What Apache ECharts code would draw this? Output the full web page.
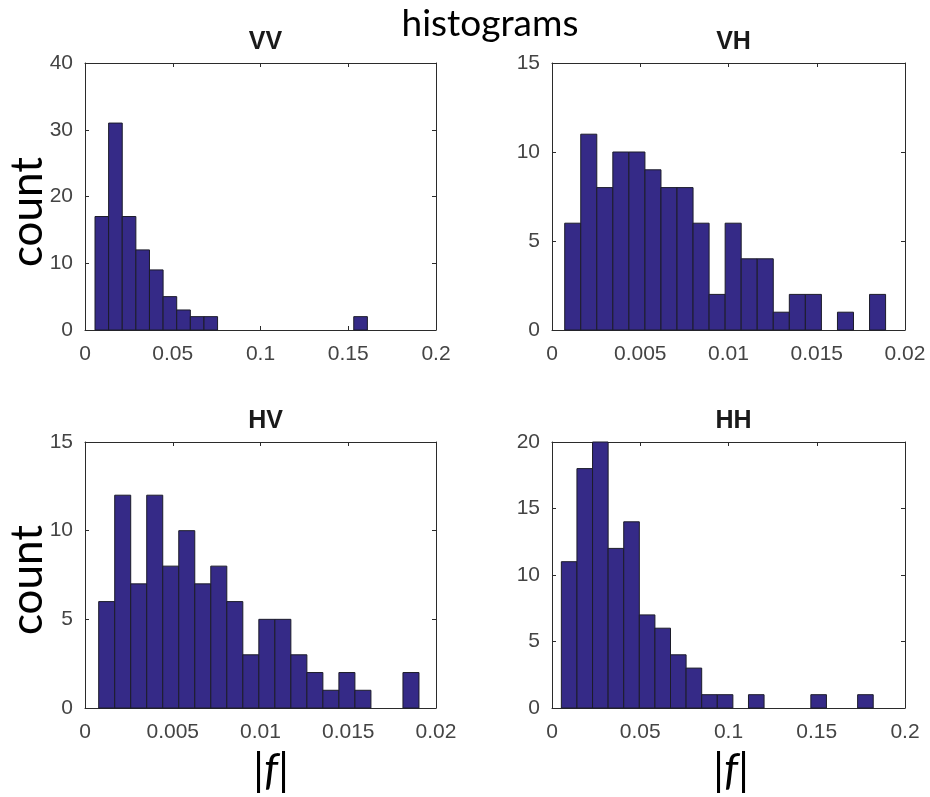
<!DOCTYPE html>
<html>
<head>
<meta charset="utf-8">
<script src="https://cdn.jsdelivr.net/npm/echarts@6/dist/echarts.min.js"></script>
<style>html,body{margin:0;padding:0;background:#fff;}#c{width:930px;height:797px;}</style>
</head>
<body>
<div id="c"></div>
<script>
// ---- data ----
const panelTitles = ['VV', 'VH', 'HV', 'HH'];
const vvCounts = [17, 31, 17, 12, 9, 5, 3, 2, 2, 0, 0, 0, 0, 0, 0, 0, 0, 0, 0, 2];
const vhCounts = [6, 11, 8, 10, 10, 9, 8, 8, 6, 2, 6, 4, 4, 1, 2, 2, 0, 1, 0, 2];
const hvCounts = [6, 12, 7, 12, 8, 10, 7, 8, 6, 3, 5, 5, 3, 2, 1, 2, 1, 0, 0, 2];
const hhCounts = [11, 18, 20, 12, 14, 7, 6, 4, 3, 1, 1, 0, 1, 0, 0, 0, 1, 0, 0, 1];
// bin range [first edge, last edge] (20 equal bins)
const vvRange = [0.0057, 0.1609];
const vhRange = [0.00072, 0.0189];
const hvRange = [0.00078, 0.01903];
const hhRange = [0.0053, 0.182];
// axis ticks
const xTicksWide = [0, 0.2, 0.05];    // min, max, interval
const xTicksNarrow = [0, 0.02, 0.005];
const vvY = [0, 40, 10];
const vhY = [0, 15, 5];
const hvY = [0, 15, 5];
const hhY = [0, 20, 5];

const counts = [vvCounts, vhCounts, hvCounts, hhCounts];
const ranges = [vvRange, vhRange, hvRange, hhRange];
const xTicks = [xTicksWide, xTicksNarrow, xTicksNarrow, xTicksWide];
const yTicks = [vvY, vhY, hvY, hhY];

// ---- layout ----
const grids = [
  {left: 85, top: 63, width: 351, height: 267},
  {left: 552, top: 63, width: 353, height: 267},
  {left: 85, top: 442, width: 351, height: 266},
  {left: 552, top: 442, width: 353, height: 266}
];
const BAR = '#352a87';
const AX = '#2b2b2b';
const LBL = '#444444';
const tickFont = 'Liberation Sans, Arial, sans-serif';

const xAxis = [], yAxis = [], series = [], title = [];
grids.forEach((g, p) => {
  const [xmin, xmax, xint] = xTicks[p];
  const [ymin, ymax, yint] = yTicks[p];
  const common = {
    axisLine: {show: true, onZero: false, lineStyle: {color: AX, width: 1}},
    axisTick: {show: true, inside: true, length: 4, lineStyle: {color: AX, width: 1}},
    splitLine: {show: false}
  };
  xAxis.push(Object.assign({type: 'value', gridIndex: p, position: 'bottom', min: xmin, max: xmax, interval: xint,
    axisLabel: {color: LBL, fontSize: 21, fontFamily: tickFont, margin: 14}}, common));
  xAxis.push(Object.assign({type: 'value', gridIndex: p, position: 'top', min: xmin, max: xmax, interval: xint,
    axisLabel: {show: false}}, common));
  yAxis.push(Object.assign({type: 'value', gridIndex: p, position: 'left', min: ymin, max: ymax, interval: yint,
    axisLabel: {color: LBL, fontSize: 21, fontFamily: tickFont, margin: 12}}, common));
  yAxis.push(Object.assign({type: 'value', gridIndex: p, position: 'right', min: ymin, max: ymax, interval: yint,
    axisLabel: {show: false}}, common));

  const [lo, hi] = ranges[p];
  const n = counts[p].length;
  const w = (hi - lo) / n;
  const data = counts[p].map((c, i) => [lo + i * w, lo + (i + 1) * w, c]);
  series.push({
    type: 'custom',
    xAxisIndex: 2 * p,
    yAxisIndex: 2 * p,
    data: data,
    encode: {x: [0, 1], y: 2},
    silent: true,
    renderItem: function (params, api) {
      const c = api.value(2);
      if (!c) return null;
      const a = api.coord([api.value(0), c]);
      const b = api.coord([api.value(1), 0]);
      return {
        type: 'rect',
        shape: {x: a[0], y: a[1], width: b[0] - a[0], height: b[1] - a[1]},
        style: {fill: BAR, stroke: '#1c1c2a', lineWidth: 1}
      };
    }
  });
  title.push({
    text: panelTitles[p],
    left: g.left + g.width / 2,
    top: g.top - 38,
    textAlign: 'center',
    textStyle: {fontSize: 25, fontWeight: 'bold', color: '#1a1a1a', fontFamily: tickFont}
  });
});

title.push({
  text: 'histograms',
  left: 485,
  top: 1,
  textAlign: 'center',
  textStyle: {fontSize: 37, fontWeight: 'normal', color: '#000', fontFamily: 'Lato, sans-serif'}
});

const bigFont = 'Lato, sans-serif';
const graphic = [
  {type: 'text', x: 28, y: 212, rotation: Math.PI / 2,
    style: {text: 'count', font: '44px ' + bigFont, fill: '#000', align: 'center', verticalAlign: 'middle'}},
  {type: 'text', x: 28, y: 580, rotation: Math.PI / 2,
    style: {text: 'count', font: '44px ' + bigFont, fill: '#000', align: 'center', verticalAlign: 'middle'}},
  {type: 'text', x: 271, y: 771,
    style: {text: '|{i|f}|', font: '44px ' + bigFont, fill: '#000', align: 'center', verticalAlign: 'middle',
      rich: {i: {fontStyle: 'italic', fontSize: 44, fontFamily: bigFont}}}},
  {type: 'text', x: 731, y: 771,
    style: {text: '|{i|f}|', font: '44px ' + bigFont, fill: '#000', align: 'center', verticalAlign: 'middle',
      rich: {i: {fontStyle: 'italic', fontSize: 44, fontFamily: bigFont}}}}
];

const chart = echarts.init(document.getElementById('c'), null, {renderer: 'canvas'});
chart.setOption({
  backgroundColor: '#fff',
  animation: false,
  title: title,
  grid: grids,
  xAxis: xAxis,
  yAxis: yAxis,
  series: series,
  graphic: graphic
});
</script>
</body>
</html>
